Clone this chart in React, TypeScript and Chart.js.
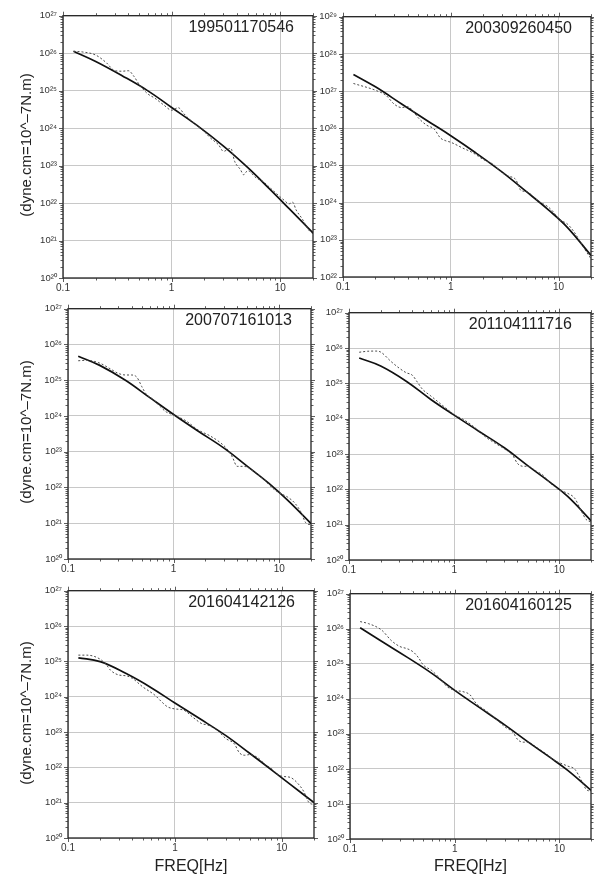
import React, { useEffect, useRef } from 'react';
import { Chart, registerables } from 'chart.js';

Chart.register(...registerables);

const FONT = '"Liberation Sans", Arial, Helvetica, sans-serif';

// Frequencies (Hz) of the model (solid) curves
const MODEL_FREQ = [0.125, 0.2, 0.35, 0.6, 1, 1.7, 3, 5, 8, 12, 20];
const X_TICKS = [0.1, 1, 10];
const Y_AXIS_TITLE = '(dyne.cm=10^\u20137N.m)';
const X_AXIS_TITLE = 'FREQ[Hz]';

// Panel 1
const P1_TITLE = '199501170546';
const P1_MODEL = [1.12e26, 6.0e25, 2.5e25, 1.0e25, 3.55e24, 1.2e24, 3.3e23, 8.9e22, 2.35e22, 7.2e21, 1.6e21];
const P1_OBS_FREQ = [0.125, 0.15, 0.2, 0.25, 0.3, 0.35, 0.4, 0.45, 0.5, 0.6, 0.7, 0.85, 1, 1.15, 1.3, 1.5, 2, 2.3, 2.7, 3, 3.5, 3.8, 4.3, 4.6, 5, 6, 7, 8, 9, 10, 11, 12, 13, 14, 16, 18, 20];
const P1_OBS = [1.12e26, 1.08e26, 8.9e25, 5.6e25, 3.4e25, 3.3e25, 3.4e25, 2.4e25, 1.5e25, 8.3e24, 6.3e24, 4.1e24, 3.0e24, 3.5e24, 2.4e24, 1.6e24, 8e23, 5.3e23, 3.6e23, 2.4e23, 2.9e23, 1.3e23, 7.8e22, 5.7e22, 7.3e22, 4.7e22, 3.7e22, 2.6e22, 1.9e22, 1.45e22, 1.15e22, 9.5e21, 1.05e22, 6.5e21, 3.7e21, 2.0e21, 1.5e21];

// Panel 2
const P2_TITLE = '200309260450';
const P2_MODEL = [2.8e27, 1.3e27, 4.5e26, 1.62e26, 6.3e25, 2.2e25, 6.6e24, 2.0e24, 6.5e23, 2.2e23, 3.8e22];
const P2_OBS_FREQ = [0.125, 0.2, 0.25, 0.3, 0.35, 0.4, 0.45, 0.5, 0.6, 0.7, 0.8, 0.9, 1, 1.3, 1.6, 2, 2.5, 3, 3.5, 4, 4.5, 5, 5.5, 6.5, 8, 9, 10, 12, 14, 17, 20];
const P2_OBS = [1.6e27, 1.05e27, 7.7e26, 4.4e26, 3.6e26, 3.8e26, 2.8e26, 1.9e26, 1.2e26, 9.6e25, 5.5e25, 4.6e25, 4.2e25, 2.9e25, 2.2e25, 1.45e25, 1.05e25, 6.3e24, 5.1e24, 4.2e24, 2.1e24, 2.0e24, 1.7e24, 1.1e24, 7.7e23, 5.5e23, 3.6e23, 2.7e23, 1.6e23, 6.3e22, 3.1e22];

// Panel 3
const P3_TITLE = '200707161013';
const P3_MODEL = [4.7e25, 2.6e25, 1.0e25, 3.2e24, 1.1e24, 3.8e23, 1.26e23, 3.9e22, 1.3e22, 4.4e21, 9.8e20];
const P3_OBS_FREQ = [0.125, 0.15, 0.2, 0.25, 0.3, 0.35, 0.4, 0.45, 0.5, 0.55, 0.65, 0.75, 0.85, 1, 1.3, 1.7, 2.2, 2.7, 3.2, 3.6, 4, 4.5, 5, 6, 7, 8, 9, 10, 12, 14, 16, 18, 20];
const P3_OBS = [3.5e25, 3.6e25, 3.0e25, 2.1e25, 1.55e25, 1.4e25, 1.4e25, 1.2e25, 6.6e24, 4.1e24, 2.8e24, 1.8e24, 1.3e24, 1.07e24, 7.4e23, 4.1e23, 2.8e23, 1.9e23, 1.2e23, 7.1e22, 3.9e22, 3.9e22, 3.7e22, 2.5e22, 1.8e22, 1.2e22, 8.7e21, 7.1e21, 5.4e21, 3.7e21, 2.1e21, 1.0e21, 9.1e20];

// Panel 4
const P4_TITLE = '201104111716';
const P4_MODEL = [5.2e25, 3.1e25, 1.15e25, 3.5e24, 1.26e24, 4.5e23, 1.5e23, 4.7e22, 1.66e22, 6.3e21, 1.3e21];
const P4_OBS_FREQ = [0.125, 0.15, 0.18, 0.2, 0.25, 0.3, 0.35, 0.4, 0.45, 0.5, 0.6, 0.8, 1, 1.2, 1.5, 2, 2.5, 3, 3.6, 4, 4.5, 5, 6, 7, 8, 9, 10, 12, 14, 16, 18, 20];
const P4_OBS = [7.6e25, 8.1e25, 8.2e25, 7.7e25, 4.2e25, 2.7e25, 2.0e25, 1.7e25, 1.05e25, 6.8e24, 4.4e24, 2.2e24, 1.3e24, 9.8e23, 6.3e23, 3.0e23, 1.95e23, 1.4e23, 9.2e22, 5.4e22, 4.5e22, 4.5e22, 3.3e22, 2.5e22, 1.6e22, 1.2e22, 9.6e21, 7.7e21, 5.6e21, 2.6e21, 1.4e21, 1.2e21];

// Panel 5
const P5_TITLE = '201604142126';
const P5_MODEL = [1.26e25, 9.8e24, 4.5e24, 1.8e24, 6.6e23, 2.4e23, 7.9e22, 2.5e22, 8.5e21, 3.3e21, 1.0e21];
const P5_OBS_FREQ = [0.125, 0.15, 0.2, 0.23, 0.25, 0.3, 0.35, 0.4, 0.5, 0.65, 0.75, 0.85, 1, 1.2, 1.5, 1.8, 2, 2.5, 3, 3.6, 4, 4.5, 5, 6, 7, 8, 9, 10, 12, 14, 16, 18, 20];
const P5_OBS = [1.5e25, 1.5e25, 1.15e25, 7.8e24, 5.6e24, 4.1e24, 3.9e24, 3.3e24, 1.9e24, 1.1e24, 7.2e23, 5.2e23, 4.5e23, 4.2e23, 2.5e23, 1.7e23, 1.6e23, 1.1e23, 6.5e22, 4.6e22, 2.6e22, 2.2e22, 2.3e22, 1.85e22, 1.2e22, 9.3e21, 6.6e21, 5.6e21, 5.2e21, 3.6e21, 2.1e21, 1.0e21, 8.9e20];

// Panel 6
const P6_TITLE = '201604160125';
const P6_MODEL = [1.07e26, 4.4e25, 1.55e25, 5.4e24, 1.74e24, 5.8e23, 1.8e23, 5.9e22, 2.2e22, 9.1e21, 2.45e21];
const P6_OBS_FREQ = [0.125, 0.15, 0.2, 0.25, 0.3, 0.35, 0.4, 0.45, 0.5, 0.6, 0.7, 0.85, 1, 1.2, 1.4, 1.6, 2, 2.5, 3, 3.6, 4, 4.5, 5, 6, 7, 8, 9, 10, 12, 14, 16, 18, 20];
const P6_OBS = [1.6e26, 1.4e26, 9.2e25, 4.5e25, 3.1e25, 2.7e25, 2.2e25, 1.5e25, 9.3e24, 6.5e24, 4.2e24, 2.2e24, 1.75e24, 1.6e24, 1.3e24, 7.4e23, 4.5e23, 2.6e23, 1.6e23, 1.1e23, 6.8e22, 5.8e22, 5.8e22, 4.2e22, 3.1e22, 2.3e22, 1.7e22, 1.5e22, 1.2e22, 9.8e21, 5.0e21, 2.6e21, 2.3e21];

type PanelCfg = {
  title: string;
  model: number[];
  obsFreq: number[];
  obs: number[];
  yMin: number;
  yMax: number;
  box: [number, number, number, number];
  yTitle: boolean;
  xTitle: boolean;
};

const PANELS: PanelCfg[] = [
  { title: P1_TITLE, model: P1_MODEL, obsFreq: P1_OBS_FREQ, obs: P1_OBS, yMin: 1e20, yMax: 1e27, box: [63, 12, 313, 278], yTitle: true, xTitle: false },
  { title: P2_TITLE, model: P2_MODEL, obsFreq: P2_OBS_FREQ, obs: P2_OBS, yMin: 1e22, yMax: 1e29, box: [343, 13, 591, 277], yTitle: false, xTitle: false },
  { title: P3_TITLE, model: P3_MODEL, obsFreq: P3_OBS_FREQ, obs: P3_OBS, yMin: 1e20, yMax: 1e27, box: [68, 305, 311, 559], yTitle: true, xTitle: false },
  { title: P4_TITLE, model: P4_MODEL, obsFreq: P4_OBS_FREQ, obs: P4_OBS, yMin: 1e20, yMax: 1e27, box: [349, 309, 591, 560], yTitle: false, xTitle: false },
  { title: P5_TITLE, model: P5_MODEL, obsFreq: P5_OBS_FREQ, obs: P5_OBS, yMin: 1e20, yMax: 1e27, box: [68, 587, 314, 838], yTitle: true, xTitle: true },
  { title: P6_TITLE, model: P6_MODEL, obsFreq: P6_OBS_FREQ, obs: P6_OBS, yMin: 1e20, yMax: 1e27, box: [350, 590, 591, 839], yTitle: false, xTitle: true },
];

const SUP = ['\u2070', '\u00b9', '\u00b2', '\u00b3', '\u2074', '\u2075', '\u2076', '\u2077', '\u2078', '\u2079'];
const supNum = (n: number) => String(n).split('').map((c) => SUP[Number(c)]).join('');

const PL = 52, PR = 8, PT = 8, PB = 22;

const framePlugin = {
  id: 'frame',
  afterDraw(chart: any) {
    const { ctx, chartArea, scales } = chart;
    const { left, right, top, bottom } = chartArea;
    const xs = scales.x, ys = scales.y;
    ctx.save();
    ctx.strokeStyle = '#222';
    ctx.lineWidth = 1.3;
    ctx.strokeRect(left, top, right - left, bottom - top);
    ctx.lineWidth = 0.8;
    ctx.strokeStyle = '#333';
    ctx.beginPath();
    for (let d = -1; d <= 1; d++) {
      for (let k = 1; k <= 9; k++) {
        const v = k * Math.pow(10, d);
        if (v < xs.min - 1e-9 || v > xs.max + 1e-9) continue;
        const px = Math.round(xs.getPixelForValue(v)) + 0.5;
        const len = k === 1 ? 4 : 2.5;
        ctx.moveTo(px, top); ctx.lineTo(px, top - len);
        ctx.moveTo(px, bottom); ctx.lineTo(px, bottom + len);
      }
    }
    const e0 = Math.round(Math.log10(ys.min));
    const e1 = Math.round(Math.log10(ys.max));
    for (let e = e0; e <= e1; e++) {
      for (let k = 1; k <= 9; k++) {
        if (e === e1 && k > 1) continue;
        const v = k * Math.pow(10, e);
        const py = Math.round(ys.getPixelForValue(v)) + 0.5;
        const len = k === 1 ? 4 : 2.5;
        ctx.moveTo(left, py); ctx.lineTo(left - len, py);
        ctx.moveTo(right, py); ctx.lineTo(right + len, py);
      }
    }
    ctx.stroke();
    ctx.restore();
  },
};

function Panel({ cfg }: { cfg: PanelCfg }) {
  const ref = useRef<HTMLCanvasElement>(null);
  const [l, t, r, b] = cfg.box;
  const W = r - l + PL + PR;
  const H = b - t + PT + PB;

  useEffect(() => {
    if (!ref.current) return;
    const e0 = Math.round(Math.log10(cfg.yMin));
    const e1 = Math.round(Math.log10(cfg.yMax));
    const yTicks: number[] = [];
    for (let e = e0; e <= e1; e++) yTicks.push(Math.pow(10, e));
    const chart = new Chart(ref.current, {
      type: 'line',
      data: {
        datasets: [
          {
            label: 'observed',
            data: cfg.obsFreq.map((f, i) => ({ x: f, y: cfg.obs[i] })),
            borderColor: '#4a4a4a',
            borderWidth: 1,
            borderDash: [2, 2],
            pointRadius: 0,
            fill: false,
            cubicInterpolationMode: 'monotone',
          },
          {
            label: 'model',
            data: MODEL_FREQ.map((f, i) => ({ x: f, y: cfg.model[i] })),
            borderColor: '#111',
            borderWidth: 1.7,
            pointRadius: 0,
            fill: false,
            tension: 0.4,
          },
        ],
      },
      options: {
        responsive: false,
        animation: false,
        devicePixelRatio: 1,
        layout: { padding: { left: 0, right: PR, top: PT, bottom: 0 } },
        plugins: { legend: { display: false }, tooltip: { enabled: false }, title: { display: false } },
        scales: {
          x: {
            type: 'logarithmic',
            min: 0.1,
            max: 20,
            afterBuildTicks: (s: any) => { s.ticks = X_TICKS.map((v) => ({ value: v })); },
            afterFit: (s: any) => { s.height = PB; },
            ticks: {
              callback: (v: any) => String(v),
              font: { family: FONT, size: 10 },
              color: '#333',
              padding: 4,
              maxRotation: 0,
              autoSkip: false,
            },
            grid: { color: '#c8c8c8', lineWidth: 1, drawTicks: false },
            border: { display: false },
          },
          y: {
            type: 'logarithmic',
            min: cfg.yMin,
            max: cfg.yMax,
            afterBuildTicks: (s: any) => { s.ticks = yTicks.map((v) => ({ value: v })); },
            afterFit: (s: any) => { s.width = PL; },
            ticks: {
              callback: (v: any) => '10' + supNum(Math.round(Math.log10(Number(v)))),
              font: { family: FONT, size: 9.5 },
              color: '#333',
              padding: 6,
              autoSkip: false,
            },
            grid: { color: '#c8c8c8', lineWidth: 1, drawTicks: false },
            border: { display: false },
          },
        },
      } as any,
      plugins: [framePlugin],
    });
    return () => chart.destroy();
  }, []);

  return (
    <>
      <canvas
        ref={ref}
        width={W}
        height={H}
        style={{ position: 'absolute', left: l - PL, top: t - PT, width: W, height: H }}
      />
      <div
        style={{
          position: 'absolute',
          right: 594 - (r - 19),
          top: t + 6,
          fontFamily: FONT,
          fontSize: 16,
          lineHeight: '18px',
          color: '#222',
          whiteSpace: 'nowrap',
        }}
      >
        {cfg.title}
      </div>
      {cfg.yTitle && (
        <div
          style={{
            position: 'absolute',
            left: 26 - 110,
            top: (t + b) / 2 - 9,
            width: 220,
            height: 18,
            lineHeight: '18px',
            textAlign: 'center',
            transform: 'rotate(-90deg)',
            transformOrigin: '50% 50%',
            fontFamily: FONT,
            fontSize: 15,
            color: '#222',
            whiteSpace: 'nowrap',
          }}
        >
          {Y_AXIS_TITLE}
        </div>
      )}
      {cfg.xTitle && (
        <div
          style={{
            position: 'absolute',
            left: (l + r) / 2 - 60,
            top: 857,
            width: 120,
            lineHeight: '18px',
            textAlign: 'center',
            fontFamily: FONT,
            fontSize: 16,
            color: '#222',
            whiteSpace: 'nowrap',
          }}
        >
          {X_AXIS_TITLE}
        </div>
      )}
    </>
  );
}

export default function App() {
  return (
    <div style={{ position: 'absolute', left: 0, top: 0, width: 594, height: 879, background: '#fff', overflow: 'hidden' }}>
      {PANELS.map((p, i) => (
        <Panel key={i} cfg={p} />
      ))}
    </div>
  );
}
